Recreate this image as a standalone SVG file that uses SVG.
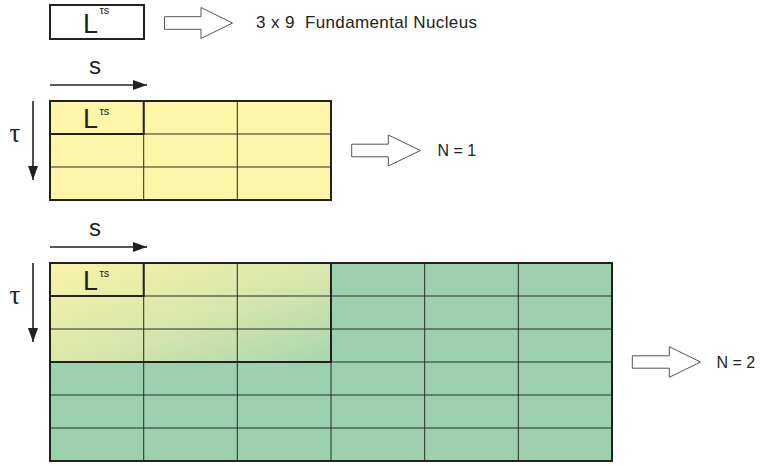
<svg xmlns="http://www.w3.org/2000/svg" width="764" height="466" viewBox="0 0 764 466">
<defs>
<linearGradient id="blend" x1="0" y1="0" x2="1" y2="1">
<stop offset="0" stop-color="#f9f3a8"/>
<stop offset="0.55" stop-color="#d6e6ab"/>
<stop offset="1" stop-color="#a6d6b0"/>
</linearGradient>
<marker id="ah" markerWidth="14" markerHeight="10" refX="14" refY="5" orient="auto" markerUnits="userSpaceOnUse">
<path d="M0,0 L14,5 L0,10 Z" fill="#222"/>
</marker>
<style>
.sans{font-family:"Liberation Sans",Arial,sans-serif;fill:#222}
.serif{font-family:"Liberation Serif","Times New Roman",serif;fill:#222}
.L{font-size:27px}
.sup{font-size:11px}
.lbl{font-size:16px}
.pre{white-space:pre}
.thin{stroke:#2a2a2a;stroke-width:1;fill:none}
.thick{stroke:#222;stroke-width:2;fill:none}
.hollow{fill:#fff;stroke:#555;stroke-width:1}
.axis{stroke:#222;stroke-width:1.6;fill:none}
</style>
</defs>

<g id="nucleus">
<rect x="50" y="5" width="94" height="34" fill="#fff" stroke="#222" stroke-width="2"/>
<text class="sans L" x="83" y="32.5">L</text>
<text class="sans sup" x="99.5" y="14">τs</text>
</g>
<text class="sans pre" x="256" y="28" font-size="17" xml:space="preserve" textLength="221" lengthAdjust="spacing">3 x 9  Fundamental Nucleus</text>

<g id="grid1">
<rect x="50" y="101" width="281" height="99" fill="#fdf5a8"/>
<path class="thin" d="M143.7,101V200M237.3,101V200M50,134H331M50,167H331"/>
<rect class="thick" x="50" y="101" width="281" height="99"/>
<rect class="thick" x="50" y="101" width="93.7" height="33"/>
<text class="sans L" x="83" y="128">L</text>
<text class="sans sup" x="99.5" y="115">τs</text>
</g>
<text class="sans" x="89" y="74" font-size="24">s</text>
<text class="serif" x="9.5" y="142" font-size="27">τ</text>
<text class="sans lbl" x="437.5" y="156">N = 1</text>

<g id="grid2">
<rect x="50" y="263" width="562" height="198" fill="#9dd1ad"/>
<rect x="50" y="263" width="281" height="99" fill="url(#blend)"/>
<path class="thin" d="M143.7,263V461M237.3,263V461M331,263V461M424.7,263V461M518.3,263V461M50,296H612M50,329H612M50,362H612M50,395H612M50,428H612"/>
<rect class="thick" x="50" y="263" width="562" height="198"/>
<rect class="thick" x="50" y="263" width="281" height="99"/>
<rect class="thick" x="50" y="263" width="93.7" height="33"/>
<text class="sans L" x="83" y="290">L</text>
<text class="sans sup" x="99.5" y="277">τs</text>
</g>
<text class="sans" x="89" y="236" font-size="24">s</text>
<text class="serif" x="9.5" y="304" font-size="27">τ</text>
<text class="sans lbl" x="716.5" y="368">N = 2</text>

<g id="connectors">
<line class="axis" x1="50" y1="85" x2="147" y2="85" marker-end="url(#ah)"/>
<line class="axis" x1="33" y1="101" x2="33" y2="180" marker-end="url(#ah)"/>
<line class="axis" x1="50" y1="247" x2="147" y2="247" marker-end="url(#ah)"/>
<line class="axis" x1="33" y1="263" x2="33" y2="342" marker-end="url(#ah)"/>
<polygon class="hollow" points="164.5,16.7 201,16.7 201,7.5 232.5,23 201,38.5 201,29.3 164.5,29.3"/>
<polygon class="hollow" points="351.7,144.2 388.3,144.2 388.3,135 420.5,150.5 388.3,166 388.3,156.8 351.7,156.8"/>
<polygon class="hollow" points="632.3,355.8 669.3,355.8 669.3,346.7 700.5,362 669.3,377.3 669.3,368.2 632.3,368.2"/>
</g>
</svg>
